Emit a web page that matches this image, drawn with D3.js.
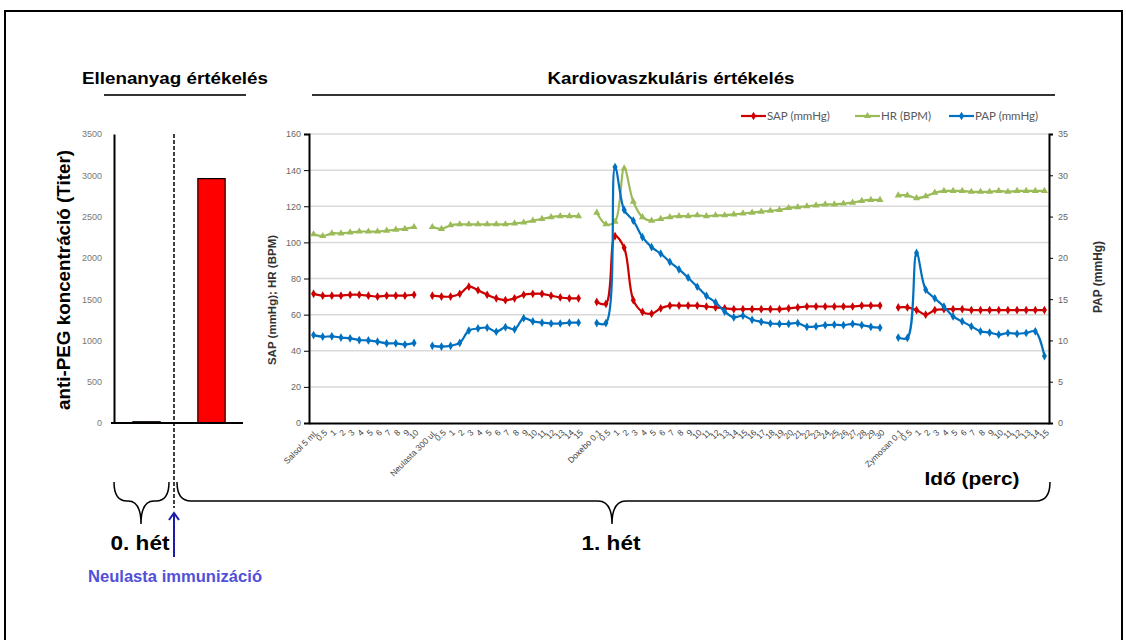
<!DOCTYPE html>
<html>
<head>
<meta charset="utf-8">
<script src="https://cdn.jsdelivr.net/npm/d3@7"></script>
<style>
  body { margin: 0; background: #fff; }
  text { font-family: "Liberation Sans", Arial, sans-serif; }
</style>
</head>
<body>
<script>
// ---- data ----
var weeks = ["0. hét", "1. hét"];
var titers = [15, 2960];

var timeLabels = [
  "Salsol 5 mL", "0.5", "1", "2", "3", "4", "5", "6", "7", "8", "9", "10", "",
  "Neulasta 300 uL", "0.5", "1", "2", "3", "4", "5", "6", "7", "8", "9", "10", "11", "12", "13", "14", "15", "",
  "Doxebo 0.1", "0.5", "1", "2", "3", "4", "5", "6", "7", "8", "9", "10", "11", "12", "13", "14", "15",
  "16", "17", "18", "19", "20", "21", "22", "23", "24", "25", "26", "27", "28", "29", "30", "",
  "Zymosan 0.1", "0.5", "1", "2", "3", "4", "5", "6", "7", "8", "9", "10", "11", "12", "13", "14", "15"
];

var sap = [
  71.5, 70.5, 70.5, 70.5, 71, 71, 70.5, 70, 70.5, 70.5, 70.5, 71, null,
  70.5, 70, 70, 71.5, 75.5, 73.5, 71, 69, 68, 69, 71, 71.5, 71.5, 70.5, 69.5, 69, 69, null,
  67, 66, 103.5, 97, 68, 61.5, 60.5, 63.5, 65, 65, 65, 65, 64.5, 64, 63.5, 63, 63, 63, 63, 63, 63,
  63.5, 64, 64.5, 64.5, 64.5, 64.5, 64.5, 64.5, 65, 65, 65, null,
  64, 64, 62.5, 60, 62.5, 63, 63, 63, 62.5, 62.5, 62.5, 62.5, 62.5, 62.5, 62.5, 62.5, 62.5
];

var hr = [
  104.5, 103.5, 105, 105, 105.5, 106, 106, 106, 106.5, 107, 107.5, 108.5, null,
  108.5, 107.5, 109.5, 110, 110, 110, 110, 110, 110, 110.5, 111, 112, 113, 114, 114.5, 114.5, 114.5, null,
  116.5, 110, 111.5, 141, 122.5, 114, 112, 113, 114, 114.5, 114.5, 115, 114.5, 115, 115, 115.5, 116,
  116.5, 117, 117.5, 118, 119, 119.5, 120, 120.5, 121, 121, 121.5, 122, 123, 123.5, 123.5, null,
  126, 126, 124.5, 125.5, 127.5, 128.5, 128.5, 128.5, 128, 128, 128, 128.5, 128, 128.5, 128.5, 128.5, 128.5
];

var pap = [
  10.65, 10.45, 10.5, 10.35, 10.25, 10.05, 10, 9.85, 9.65, 9.65, 9.5, 9.7, null,
  9.35, 9.25, 9.35, 9.7, 11.2, 11.45, 11.55, 11.05, 11.6, 11.35, 12.7, 12.3, 12.15, 12.05, 12.05, 12.15, 12.15, null,
  12.1, 12.1, 31, 25.8, 24.5, 22.5, 21.3, 20.5, 19.5, 18.6, 17.6, 16.5, 15.4, 14.6, 13.5, 12.8, 13,
  12.5, 12.25, 12.05, 12, 12, 12.1, 11.65, 11.7, 11.85, 11.9, 11.85, 12, 11.85, 11.65, 11.55, null,
  10.35, 10.3, 20.6, 16.15, 15.1, 14.1, 12.9, 12.3, 11.7, 11.1, 10.95, 10.7, 10.9, 10.8, 10.9, 11.1, 8.1
];

var leftTicks = [0, 20, 40, 60, 80, 100, 120, 140, 160];
var rightTicks = [0, 5, 10, 15, 20, 25, 30, 35];
var titerTicks = [0, 500, 1000, 1500, 2000, 2500, 3000, 3500];

var width = 1126, height = 640;

var svg = d3.select("body").append("svg")
  .attr("width", width)
  .attr("height", height);

// outer frame
svg.append("rect")
  .attr("x", 5).attr("y", 11)
  .attr("width", 1117).attr("height", 660)
  .attr("fill", "none")
  .attr("stroke", "#000")
  .attr("stroke-width", 2);

// section titles
svg.append("text")
  .attr("x", 175).attr("y", 84)
  .attr("text-anchor", "middle")
  .style("font-size", "17px").style("font-weight", "bold")
  .attr("textLength", 186).attr("lengthAdjust", "spacingAndGlyphs")
  .text("Ellenanyag  értékelés");
svg.append("line")
  .attr("x1", 104).attr("x2", 246).attr("y1", 95).attr("y2", 95)
  .attr("stroke", "#333").attr("stroke-width", 2);

svg.append("text")
  .attr("x", 671).attr("y", 84)
  .attr("text-anchor", "middle")
  .style("font-size", "17px").style("font-weight", "bold")
  .attr("textLength", 247).attr("lengthAdjust", "spacingAndGlyphs")
  .text("Kardiovaszkuláris  értékelés");
svg.append("line")
  .attr("x1", 312).attr("x2", 1055).attr("y1", 95).attr("y2", 95)
  .attr("stroke", "#333").attr("stroke-width", 2);

// ---- left chart: anti-PEG titer ----
var xb = d3.scaleBand()
  .domain(weeks)
  .range([114, 244])
  .paddingInner(0.58)
  .paddingOuter(0.29);

var yb = d3.scaleLinear().domain([0, 3500]).range([423, 134]);

var gLeft = svg.append("g");

gLeft.selectAll("rect.bar")
  .data(weeks)
  .enter()
  .append("rect")
  .attr("class", "bar")
  .attr("x", function (d) { return xb(d); })
  .attr("width", xb.bandwidth())
  .attr("y", function (d, i) { return yb(titers[i]); })
  .attr("height", function (d, i) { return yb(0) - yb(titers[i]); })
  .attr("fill", "#FF0000")
  .attr("stroke", "#000")
  .attr("stroke-width", 1.2);

var titerAxis = d3.axisLeft(yb)
  .tickValues(titerTicks)
  .tickFormat(d3.format("d"))
  .tickSize(0)
  .tickPadding(12);

gLeft.append("g")
  .attr("transform", "translate(114,0)")
  .call(titerAxis)
  .call(function (g) {
    g.select(".domain").attr("stroke", "#000").attr("stroke-width", 2);
    g.selectAll("text").style("font-size", "9px").attr("fill", "#777");
  });

gLeft.append("line")
  .attr("x1", 111).attr("x2", 243).attr("y1", 423).attr("y2", 423)
  .attr("stroke", "#000").attr("stroke-width", 2);

gLeft.append("text")
  .attr("transform", "translate(70,280) rotate(-90)")
  .attr("text-anchor", "middle")
  .style("font-size", "18px").style("font-weight", "bold")
  .attr("textLength", 260).attr("lengthAdjust", "spacingAndGlyphs")
  .text("anti-PEG koncentráció (Titer)");

// dashed immunisation line
svg.append("line")
  .attr("x1", 174).attr("x2", 174).attr("y1", 134).attr("y2", 508)
  .attr("stroke", "#000").attr("stroke-width", 1.5)
  .attr("stroke-dasharray", "4,2");

// ---- main chart: cardiovascular ----
var idx = d3.range(timeLabels.length);

var x = d3.scaleBand()
  .domain(idx)
  .range([309, 1049]);

function xc(i) { return x(i) + x.bandwidth() / 2; }

var yL = d3.scaleLinear().domain([0, 160]).range([423, 134]);
var yR = d3.scaleLinear().domain([0, 35]).range([423, 134]);

var gMain = svg.append("g");

// grid
gMain.selectAll("line.grid")
  .data(leftTicks.slice(1))
  .enter()
  .append("line")
  .attr("class", "grid")
  .attr("x1", 309).attr("x2", 1049)
  .attr("y1", function (d) { return yL(d); })
  .attr("y2", function (d) { return yL(d); })
  .attr("stroke", "#d9d9d9")
  .attr("stroke-width", 1.5);

var leftAxis = d3.axisLeft(yL)
  .tickValues(leftTicks)
  .tickSize(5)
  .tickPadding(3);

gMain.append("g")
  .attr("transform", "translate(309,0)")
  .call(leftAxis)
  .call(function (g) {
    g.select(".domain").attr("stroke", "#000").attr("stroke-width", 2);
    g.selectAll("text").style("font-size", "9px").attr("fill", "#666");
  });

var rightAxis = d3.axisRight(yR)
  .tickValues(rightTicks)
  .tickSize(4)
  .tickPadding(5);

gMain.append("g")
  .attr("transform", "translate(1049,0)")
  .call(rightAxis)
  .call(function (g) {
    g.select(".domain").attr("stroke", "#000").attr("stroke-width", 2);
    g.selectAll("text").style("font-size", "9px").attr("fill", "#666");
  });

var xAxis = d3.axisBottom(x)
  .tickFormat(function (i) { return timeLabels[i]; })
  .tickSize(0)
  .tickSizeOuter(0);

gMain.append("g")
  .attr("transform", "translate(0,423)")
  .call(xAxis)
  .call(function (g) {
    g.select(".domain").attr("stroke", "#000").attr("stroke-width", 2);
    g.selectAll("text")
      .attr("x", 0).attr("y", 0).attr("dy", "0.35em")
      .attr("text-anchor", "end")
      .attr("transform", "translate(3,8) rotate(-45)")
      .style("font-size", "8.5px")
      .attr("fill", "#444");
  });

// axis titles
gMain.append("text")
  .attr("transform", "translate(276,300) rotate(-90)")
  .attr("text-anchor", "middle")
  .style("font-size", "11.5px").style("font-weight", "bold")
  .attr("fill", "#333")
  .text("SAP (mmHg); HR (BPM)");

gMain.append("text")
  .attr("transform", "translate(1102,277) rotate(-90)")
  .attr("text-anchor", "middle")
  .style("font-size", "12px").style("font-weight", "bold")
  .attr("fill", "#333")
  .text("PAP (mmHg)");

gMain.append("text")
  .attr("x", 972).attr("y", 485)
  .attr("text-anchor", "middle")
  .style("font-size", "19px").style("font-weight", "bold")
  .attr("textLength", 95).attr("lengthAdjust", "spacingAndGlyphs")
  .text("Idő (perc)");

// series
var series = [
  { name: "SAP (mmHg)", values: sap, scale: yL, color: "#CC0000", symbol: d3.symbolDiamond },
  { name: "HR (BPM)", values: hr, scale: yL, color: "#9BBB59", symbol: d3.symbolTriangle },
  { name: "PAP (mmHg)", values: pap, scale: yR, color: "#0070C0", symbol: d3.symbolDiamond }
];

series.forEach(function (s) {
  var line = d3.line()
    .defined(function (i) { return s.values[i] != null; })
    .x(function (i) { return xc(i); })
    .y(function (i) { return s.scale(s.values[i]); })
    .curve(d3.curveCatmullRom.alpha(0.5));

  gMain.append("path")
    .datum(idx)
    .attr("fill", "none")
    .attr("stroke", s.color)
    .attr("stroke-width", 2.2)
    .attr("d", line);

  gMain.selectAll(null)
    .data(idx.filter(function (i) { return s.values[i] != null; }))
    .enter()
    .append("path")
    .attr("transform", function (i) { return "translate(" + xc(i) + "," + s.scale(s.values[i]) + ")"; })
    .attr("d", d3.symbol().type(s.symbol).size(22))
    .attr("fill", s.color);
});

// legend
var legendX = [741, 855, 949];
var legend = gMain.selectAll("g.legend")
  .data(series)
  .enter()
  .append("g")
  .attr("class", "legend")
  .attr("transform", function (d, i) { return "translate(" + legendX[i] + ",116)"; });

legend.append("line")
  .attr("x1", 0).attr("x2", 25)
  .attr("stroke", function (d) { return d.color; })
  .attr("stroke-width", 2.2);
legend.append("path")
  .attr("transform", "translate(12.5,0)")
  .attr("d", function (d) { return d3.symbol().type(d.symbol).size(22)(); })
  .attr("fill", function (d) { return d.color; });
legend.append("text")
  .attr("x", 26).attr("y", 4)
  .style("font-family", "Lato, 'Open Sans', sans-serif")
  .style("font-size", "11.5px")
  .attr("fill", "#595959")
  .text(function (d) { return d.name; });

// ---- braces & week labels ----
function brace(x0, x1, cx, y0, ym, yt, r) {
  return "M" + x0 + "," + y0 +
    " Q" + x0 + "," + ym + " " + (x0 + r) + "," + ym +
    " L" + (cx - r) + "," + ym +
    " Q" + cx + "," + ym + " " + cx + "," + yt +
    " Q" + cx + "," + ym + " " + (cx + r) + "," + ym +
    " L" + (x1 - r) + "," + ym +
    " Q" + x1 + "," + ym + " " + x1 + "," + y0;
}

svg.append("path")
  .attr("d", brace(114, 169, 141, 482, 501, 524, 13))
  .attr("fill", "none").attr("stroke", "#000").attr("stroke-width", 1.5);
svg.append("path")
  .attr("d", brace(177, 1050, 612, 482, 501, 524, 14))
  .attr("fill", "none").attr("stroke", "#000").attr("stroke-width", 1.5);

svg.selectAll("text.week")
  .data(weeks)
  .enter()
  .append("text")
  .attr("class", "week")
  .attr("x", function (d, i) { return [140, 611][i]; })
  .attr("y", 550)
  .attr("text-anchor", "middle")
  .style("font-size", "21px").style("font-weight", "bold")
  .attr("textLength", 59).attr("lengthAdjust", "spacingAndGlyphs")
  .text(function (d) { return d; });

// immunisation arrow
svg.append("line")
  .attr("x1", 174).attr("x2", 174).attr("y1", 557).attr("y2", 513)
  .attr("stroke", "#1c1ca8").attr("stroke-width", 2);
svg.append("path")
  .attr("d", "M169,520 L174,513 L179,520")
  .attr("fill", "none").attr("stroke", "#1c1ca8").attr("stroke-width", 2);

svg.append("text")
  .attr("x", 175).attr("y", 582)
  .attr("text-anchor", "middle")
  .style("font-size", "16px").style("font-weight", "bold")
  .attr("textLength", 174).attr("lengthAdjust", "spacingAndGlyphs")
  .attr("fill", "#5050d8")
  .text("Neulasta immunizáció");
</script>
</body>
</html>
